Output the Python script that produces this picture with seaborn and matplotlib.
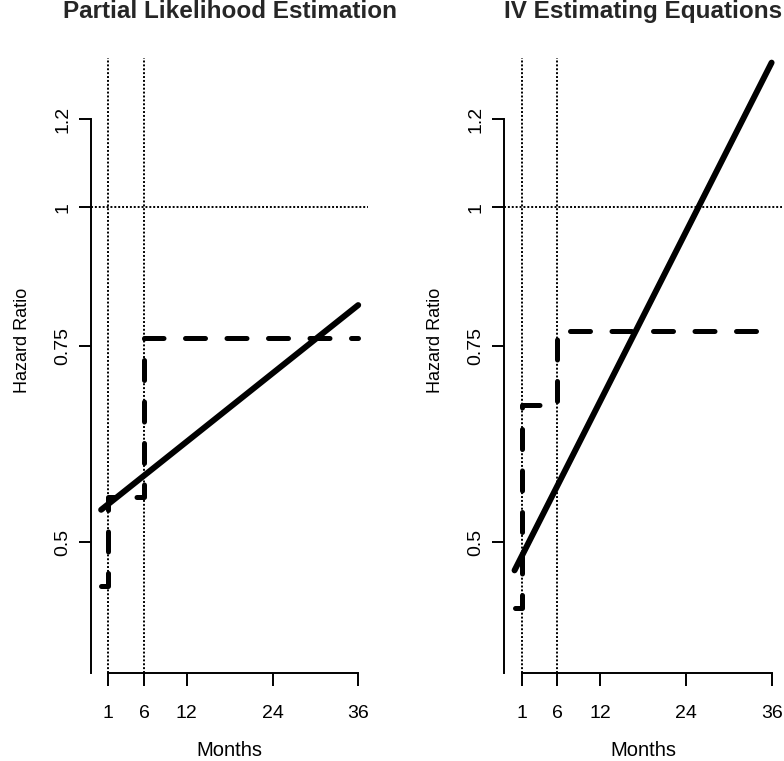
import matplotlib
matplotlib.use("Agg")
import matplotlib.pyplot as plt
import seaborn as sns
import pandas as pd

# ---- data ----
months_ticks = [1, 6, 12, 24, 36]
hr_ticks = [0.5, 0.75, 1, 1.2]
hr_tick_labels = ["0.5", "0.75", "1", "1.2"]
ref_months = [1, 6]
ref_hr = 1

titles = ["Partial Likelihood Estimation", "IV Estimating Equations"]

# time-varying (log-linear) estimate, end points at month 0 and 36
line_months = [0, 36]
pl_line_hr = [0.535, 0.817]
iv_line_hr = [0.472, 1.349]

# piecewise constant estimate, value at the start of each interval
step_months = [0, 1, 6, 36]
pl_step_hr = [0.457, 0.549, 0.763, 0.763]
iv_step_hr = [0.437, 0.664, 0.774, 0.774]

sns.set_theme(style="ticks")
plt.rcParams['font.family'] = ['Liberation Sans', 'DejaVu Sans']

fig = plt.figure(figsize=(7.84, 7.61), dpi=100)

panels = [
    (0.1159, pl_line_hr, pl_step_hr, titles[0]),
    (0.6432, iv_line_hr, iv_step_hr, titles[1]),
]

for left, line_hr, step_hr, title in panels:
    ax = fig.add_axes([left, 0.1156, 0.3541, 0.8082])

    # reference lines
    for m in ref_months:
        ax.axvline(m, color="black", lw=1.4, linestyle=(0, (1, 1)), zorder=1)
    ax.axhline(ref_hr, color="black", lw=1.4, linestyle=(0, (1, 1)), zorder=1)

    step_df = pd.DataFrame({"Months": step_months, "HR": step_hr})
    sns.lineplot(data=step_df, x="Months", y="HR", ax=ax, color="black",
                 estimator=None, sort=False, drawstyle="steps-post",
                 lw=3.6, linestyle=(0, (4, 4.3)), dash_capstyle="round",
                 zorder=2)

    line_df = pd.DataFrame({"Months": line_months, "HR": line_hr})
    sns.lineplot(data=line_df, x="Months", y="HR", ax=ax, color="black",
                 estimator=None, sort=False, lw=4.3,
                 solid_capstyle="round", zorder=3)

    ax.set_yscale("log")
    ax.set_xlim(-1.44, 37.44)
    ax.set_ylim(0.3817, 1.362)
    ax.set_xticks(months_ticks)
    ax.set_xticklabels([str(m) for m in months_ticks])
    ax.set_yticks(hr_ticks)
    ax.set_yticklabels(hr_tick_labels)
    ax.minorticks_off()

    sns.despine(ax=ax)
    ax.spines["left"].set_bounds(0.3817, 1.2)
    ax.spines["bottom"].set_bounds(1, 36)
    for s in ["left", "bottom"]:
        ax.spines[s].set_linewidth(1.4)
        ax.spines[s].set_color("black")

    ax.tick_params(axis="x", length=9.5, width=1.4, pad=13.5,
                   labelsize=14, colors="black")
    ax.tick_params(axis="y", length=8.6, width=1.4, pad=5.5,
                   labelsize=14, colors="black")
    plt.setp(ax.get_yticklabels(), rotation=90, va="center")

    ax.set_xlabel("Months", fontsize=14.5, color="black")
    ax.xaxis.set_label_coords(0.5, -0.1252)
    ax.xaxis.label.set_va("center")
    ax.set_ylabel("Hazard Ratio", fontsize=13, color="black")
    ax.yaxis.set_label_coords(-0.248, 0.5415)
    ax.yaxis.label.set_va("center")

    ax.set_title(title, fontsize=17.5, fontweight="bold", y=1.0655,
                 pad=0, va="baseline")
    ax.grid(False)

plt.savefig("out.png", dpi=100)
